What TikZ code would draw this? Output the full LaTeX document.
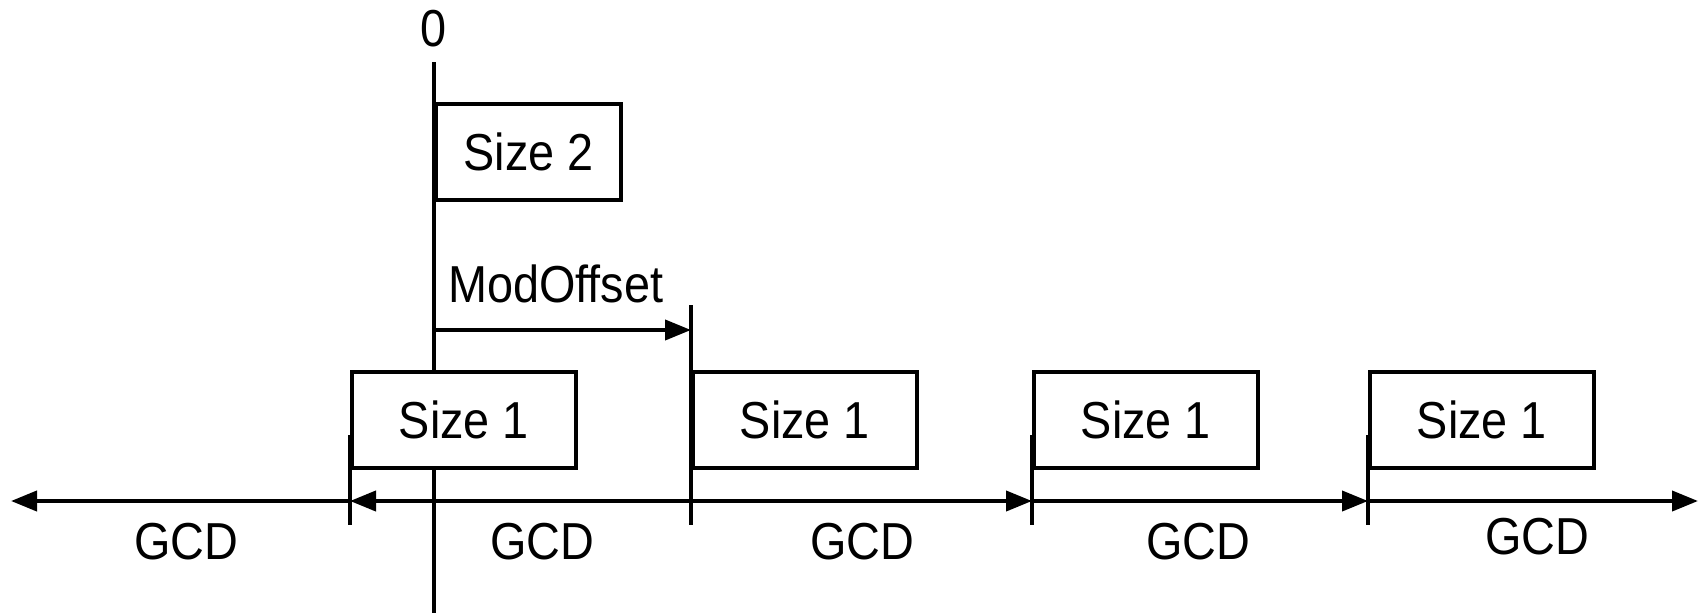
\documentclass[tikz,border=0pt]{standalone}
\usepackage{fontspec}
\setmainfont{Liberation Sans}[FakeStretch=0.9]
\usetikzlibrary{arrows.meta}
\begin{document}
\begin{tikzpicture}[x=1pt,y=-1pt,
  lbl/.style={font=\fontsize{52}{60}\selectfont, inner sep=0pt},
  box/.style={draw, line width=4pt, fill=white, minimum width=224pt, minimum height=96pt, inner sep=0pt, anchor=north west, font=\fontsize{52}{60}\selectfont},
  ln/.style={line width=4pt},
  arr/.style={line width=4pt, -{Triangle[length=26pt,width=20pt]}}]
\useasboundingbox (0,0) rectangle (1700,613);
% axis
\coordinate (axT) at (434,62);
\coordinate (axB) at (434,613);
\draw[ln] (axT) -- (axB);
\node[lbl] (zero) at (434,29) {0};
% GCD line coordinates
\coordinate (g0) at (11,501);
\coordinate (g1) at (350,501);
\coordinate (g2) at (691,501);
\coordinate (g3) at (1032,501);
\coordinate (g4) at (1368,501);
\coordinate (g5) at (1698,501);
% ticks
\draw[ln] ([yshift=66pt]g1) -- ([yshift=-24pt]g1);
\draw[ln] ([yshift=196pt]g2) -- ([yshift=-24pt]g2);
\draw[ln] ([yshift=66pt]g3) -- ([yshift=-24pt]g3);
\draw[ln] ([yshift=66pt]g4) -- ([yshift=-24pt]g4);
% boxes
\node[box, minimum width=185pt] (s2) at (434,102) {Size 2};
\node[box] (b1) at (350,370) {Size 1};
\node[box] (b2) at (691,370) {Size 1};
\node[box] (b3) at (1032,370) {Size 1};
\node[box] (b4) at (1368,370) {Size 1};
% ModOffset
\coordinate (m0) at (434,330);
\coordinate (m1) at (691,330);
\draw[arr] (m0) -- (m1);
\node[lbl, anchor=west] (mo) at (448,284) {ModOffset};
% GCD arrows
\draw[arr] (g1) -- (g0);
\draw[arr] (g2) -- (g1);
\draw[arr] (g2) -- (g3);
\draw[arr] (g3) -- (g4);
\draw[arr] (g4) -- (g5);
% GCD labels
\node[lbl] (l1) at (186,542) {GCD};
\node[lbl] (l2) at (542,542) {GCD};
\node[lbl] (l3) at (862,542) {GCD};
\node[lbl] (l4) at (1198,542) {GCD};
\node[lbl] (l5) at (1537,537) {GCD};
\end{tikzpicture}
\end{document}
